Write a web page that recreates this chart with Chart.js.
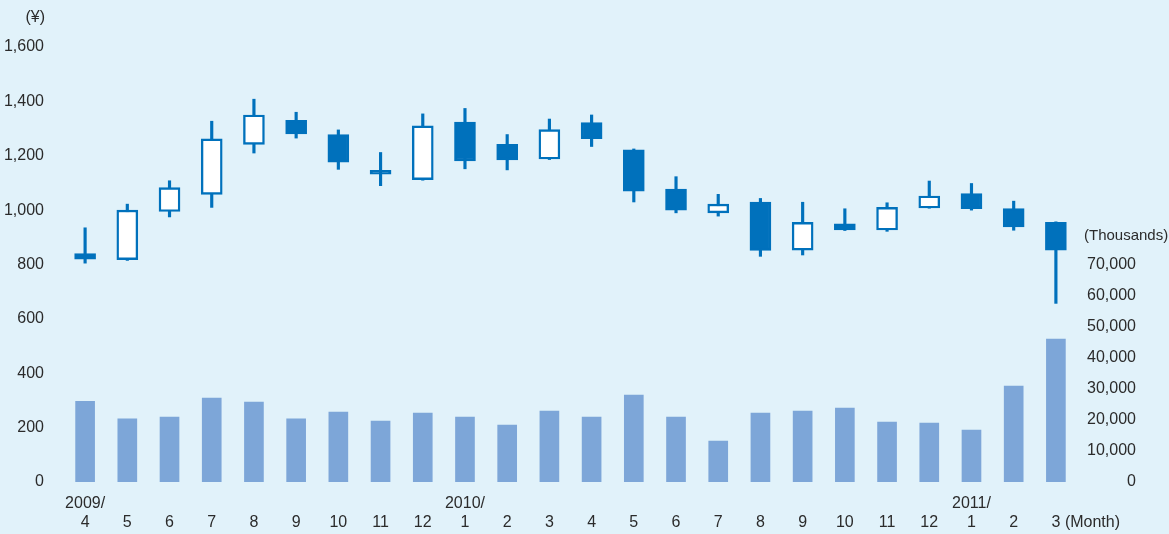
<!DOCTYPE html>
<html>
<head>
<meta charset="utf-8">
<script src="https://cdn.jsdelivr.net/npm/chart.js@4.4.1/dist/chart.umd.min.js"></script>
<style>
  html, body { margin: 0; padding: 0; background: #E1F2FA; }
  #wrap { width: 1169px; height: 534px; position: relative; }
</style>
</head>
<body>
<div id="wrap"><canvas id="c" width="1169" height="534"></canvas></div>
<script>
// ---- Data ----
const months = ['4','5','6','7','8','9','10','11','12','1','2','3','4','5','6','7','8','9','10','11','12','1','2','3'];
const yearMarks = ['2009/','','','','','','','','','2010/','','','','','','','','','','','','2011/','',''];
const openPrices  = [840, 818, 995, 1058, 1242, 1330, 1278, 1146, 1112, 1324, 1242, 1188, 1322, 1222, 1077, 990, 1030, 853, 950, 927, 1008, 1061, 1006, 955];
const closePrices = [820, 1000, 1083, 1262, 1350, 1280, 1176, 1132, 1310, 1181, 1185, 1296, 1263, 1070, 1000, 1022, 852, 955, 927, 1010, 1052, 1005, 938, 853];
const highPrices  = [935, 1022, 1108, 1327, 1408, 1360, 1295, 1212, 1354, 1374, 1278, 1335, 1350, 1225, 1123, 1058, 1043, 1029, 1005, 1027, 1107, 1098, 1033, 957];
const lowPrices   = [805, 815, 975, 1010, 1210, 1265, 1150, 1090, 1110, 1152, 1148, 1186, 1234, 1030, 990, 978, 830, 835, 925, 922, 1007, 1000, 926, 657];
const volume      = [26000, 20300, 20900, 27000, 25700, 20300, 22500, 19600, 22200, 20900, 18300, 22850, 20900, 28000, 20900, 13200, 22200, 22850, 23800, 19300, 19000, 16700, 30900, 46000];
const priceTicks  = [0, 200, 400, 600, 800, 1000, 1200, 1400, 1600];
const volumeTicks = [0, 10000, 20000, 30000, 40000, 50000, 60000, 70000];

// ---- Styles ----
const BLUE = '#0071BC';
const VOL = '#7DA6D8';
const BG = '#E1F2FA';
const TXT = '#2b2b2b';
const FONT = "'Liberation Sans', Arial, sans-serif";

const labels = months.map((m, i) => [yearMarks[i], m]);
const bodies = openPrices.map((o, i) => [o, closePrices[i]]);
const wicks = lowPrices.map((l, i) => [l, highPrices[i]]);
const bodyFill = openPrices.map((o, i) => closePrices[i] < o ? BLUE : '#FFFFFF');

const extraText = {
  id: 'extraText',
  beforeDraw(chart) {
    const ctx = chart.ctx;
    ctx.save();
    ctx.fillStyle = BG;
    ctx.fillRect(0, 0, chart.width, chart.height);
    ctx.restore();
  },
  afterDraw(chart) {
    const ctx = chart.ctx;
    const x = chart.scales.x;
    const y1 = chart.scales.y1;
    ctx.save();
    ctx.fillStyle = TXT;
    ctx.textBaseline = 'middle';
    ctx.font = "16px " + FONT;
    ctx.textAlign = 'right';
    ctx.fillText('(¥)', 45, 18);
    ctx.textAlign = 'left';
    ctx.font = "15px " + FONT;
    ctx.fillText('(Thousands)', 1084, y1.getPixelForValue(80000) + 2);
    ctx.font = "16px " + FONT;
    const lastX = x.getPixelForValue(months.length - 1);
    ctx.fillText('(Month)', lastX + 9, x.top + 12 + 19.2 * 1.5);
    ctx.restore();
  }
};

new Chart(document.getElementById('c'), {
  type: 'bar',
  data: {
    labels: labels,
    datasets: [
      {
        label: 'body', data: bodies, yAxisID: 'y', grouped: false, order: 0,
        backgroundColor: bodyFill, borderColor: BLUE, borderWidth: 2.4,
        borderSkipped: false, barThickness: 21
      },
      {
        label: 'wick', data: wicks, yAxisID: 'y', grouped: false, order: 1,
        backgroundColor: BLUE, borderWidth: 0, barThickness: 2.5
      },
      {
        label: 'volume', data: volume, yAxisID: 'y1', grouped: false, order: 2,
        backgroundColor: VOL, borderWidth: 0, barThickness: 19
      }
    ]
  },
  options: {
    responsive: false,
    animation: false,
    events: [],
    layout: { padding: { left: 0, right: 33, top: 47, bottom: 0 } },
    plugins: { legend: { display: false }, tooltip: { enabled: false } },
    scales: {
      x: {
        grid: { display: false, drawTicks: false },
        border: { display: false },
        ticks: {
          color: TXT, padding: 12, maxRotation: 0, autoSkip: false,
          font: { family: FONT, size: 16, lineHeight: 1.2 }
        },
        afterFit(s) { s.height = 52; }
      },
      y: {
        position: 'left', min: 0, max: 1600,
        grid: { display: false, drawTicks: false },
        border: { display: false },
        afterBuildTicks(s) { s.ticks = priceTicks.map(v => ({ value: v })); },
        ticks: {
          color: TXT, padding: 20,
          font: { family: FONT, size: 16 },
          callback: v => v.toLocaleString('en-US')
        },
        afterFit(s) { s.width = 64; }
      },
      y1: {
        position: 'right', min: 0, max: 140000,
        grid: { display: false, drawTicks: false },
        border: { display: false },
        afterBuildTicks(s) { s.ticks = volumeTicks.map(v => ({ value: v })); },
        ticks: {
          color: TXT, padding: 8, crossAlign: 'far',
          font: { family: FONT, size: 16 },
          callback: v => v.toLocaleString('en-US')
        },
        afterFit(s) { s.width = 59; }
      }
    }
  },
  plugins: [extraText]
});
</script>
</body>
</html>
